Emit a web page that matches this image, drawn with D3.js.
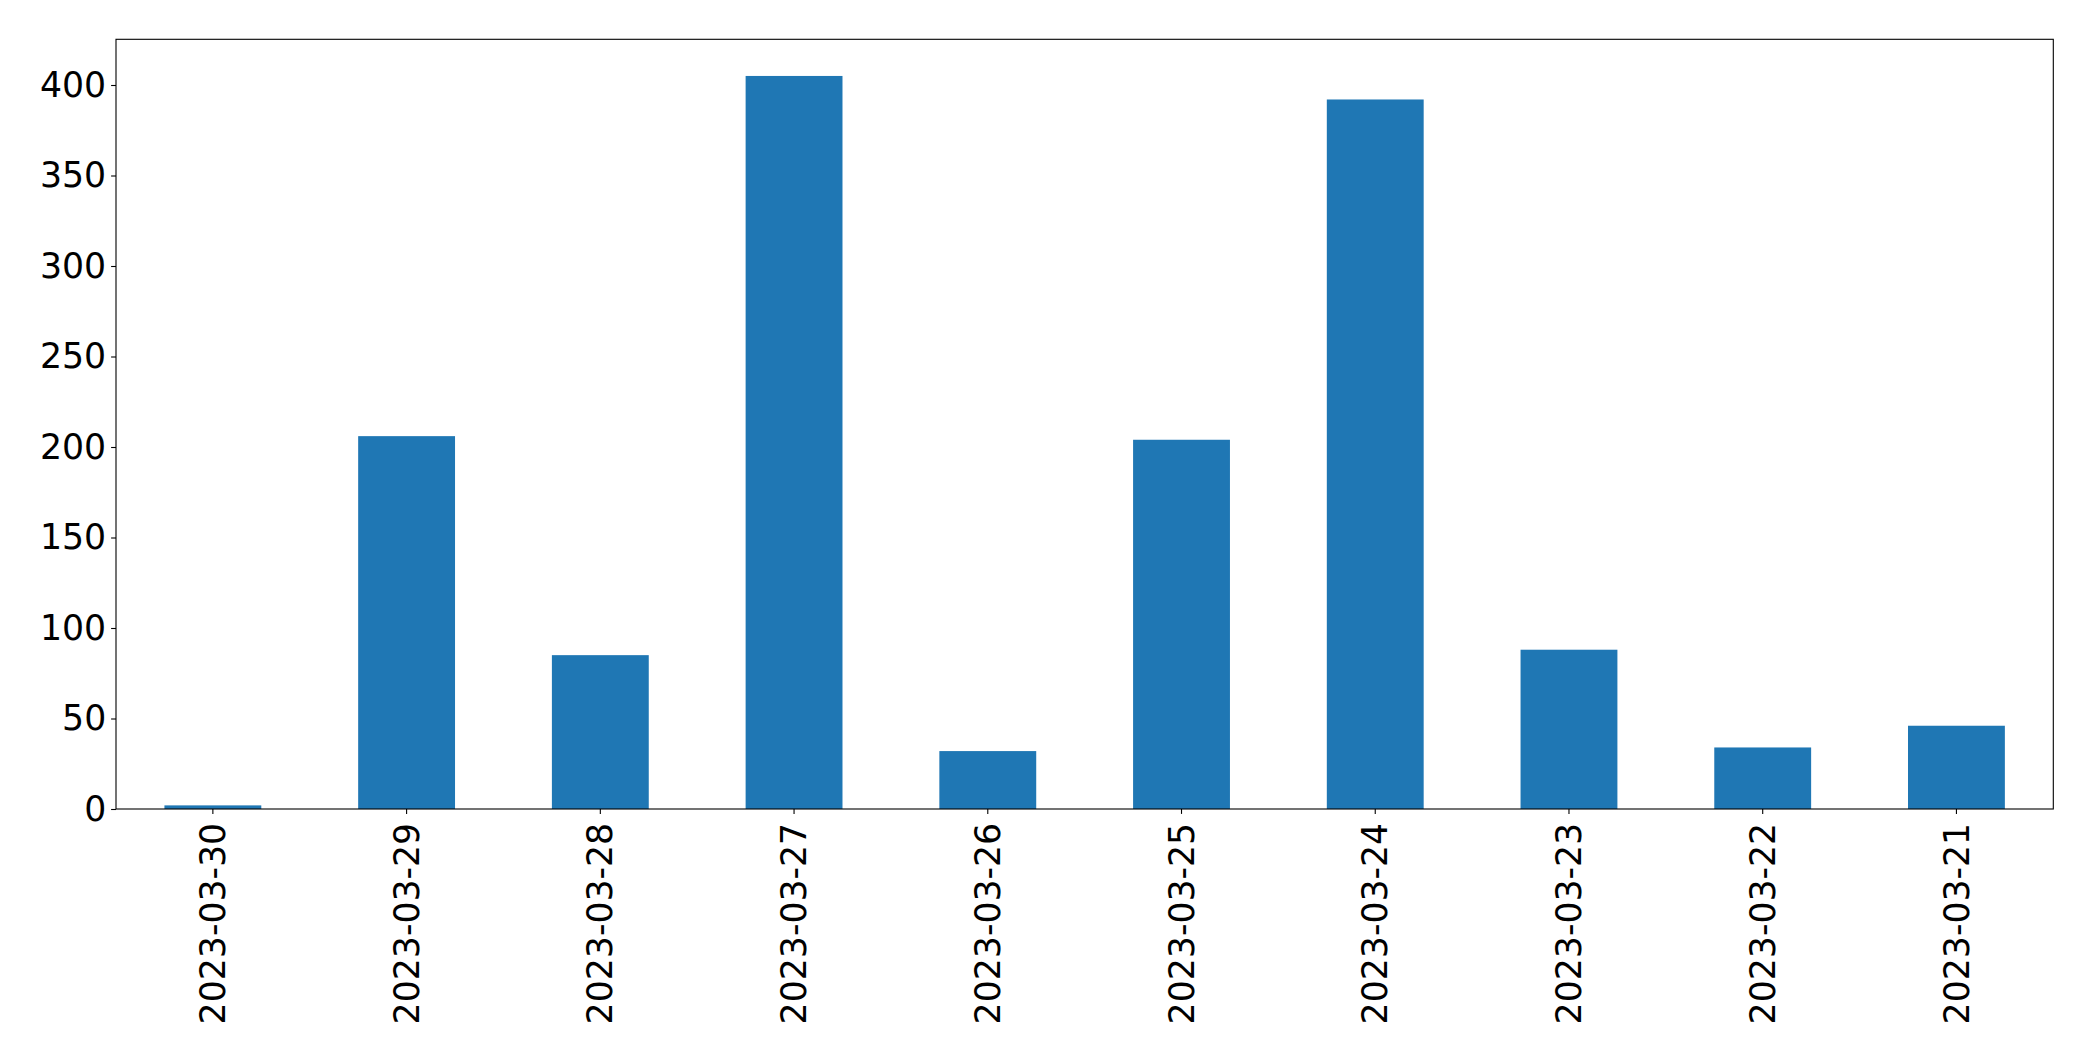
<!DOCTYPE html>
<html>
<head>
<meta charset="utf-8">
<script src="https://cdn.jsdelivr.net/npm/d3@7"></script>
<style>
html,body{margin:0;padding:0;background:#fff;}
svg{display:block;}
text{font-family:"DejaVu Sans",sans-serif;}
</style>
</head>
<body>
<svg id="chart" width="2093" height="1061"></svg>
<script>
const categories = ["2023-03-30","2023-03-29","2023-03-28","2023-03-27","2023-03-26","2023-03-25","2023-03-24","2023-03-23","2023-03-22","2023-03-21"];
const values = [2, 206, 85, 405, 32, 204, 392, 88, 34, 46];
const yTicks = [0, 50, 100, 150, 200, 250, 300, 350, 400];

const W = 2093, H = 1061;
const m = {left: 116, right: 2053.3, top: 39.3, bottom: 809};
const fs = 34.7, tickLen = 4.9, pad = 4.9;

const svg = d3.select("#chart");

const x = d3.scaleBand().domain(categories).range([m.left, m.right]).paddingInner(0.5).paddingOuter(0.25);
const yMax = d3.max(values) * 1.05;
const y = d3.scaleLinear().domain([0, yMax]).range([m.bottom, m.top]);

svg.append("g").selectAll("rect").data(categories).join("rect")
  .attr("x", d => x(d))
  .attr("width", x.bandwidth())
  .attr("y", (d, i) => y(values[i]))
  .attr("height", (d, i) => y(0) - y(values[i]))
  .attr("fill", "#1f77b4");

// Y axis
const yAxis = d3.axisLeft(y).tickValues(yTicks).tickSize(tickLen).tickPadding(pad).tickFormat(d3.format("d"));
const gy = svg.append("g").attr("transform", `translate(${m.left},0)`).call(yAxis);
gy.select(".domain").remove();
gy.selectAll("line").attr("stroke", "#000").attr("stroke-width", 1.1);
gy.selectAll("text").attr("font-size", fs).attr("fill", "#000").attr("font-family", "DejaVu Sans");

// X axis
const xAxis = d3.axisBottom(x).tickSize(tickLen).tickPadding(pad);
const gx = svg.append("g").attr("transform", `translate(0,${m.bottom})`).call(xAxis);
gx.select(".domain").remove();
gx.selectAll("line").attr("stroke", "#000").attr("stroke-width", 1.1);
gx.selectAll("text")
  .attr("font-size", fs).attr("fill", "#000").attr("font-family", "DejaVu Sans")
  .attr("text-anchor", "end")
  .attr("y", 0).attr("x", 0).attr("dy", "0.35em")
  .attr("transform", `translate(0,${tickLen + pad + 4}) rotate(-90)`);

// Frame
svg.append("rect")
  .attr("x", m.left).attr("y", m.top)
  .attr("width", m.right - m.left).attr("height", m.bottom - m.top)
  .attr("fill", "none").attr("stroke", "#000").attr("stroke-width", 1.1);
</script>
</body>
</html>
